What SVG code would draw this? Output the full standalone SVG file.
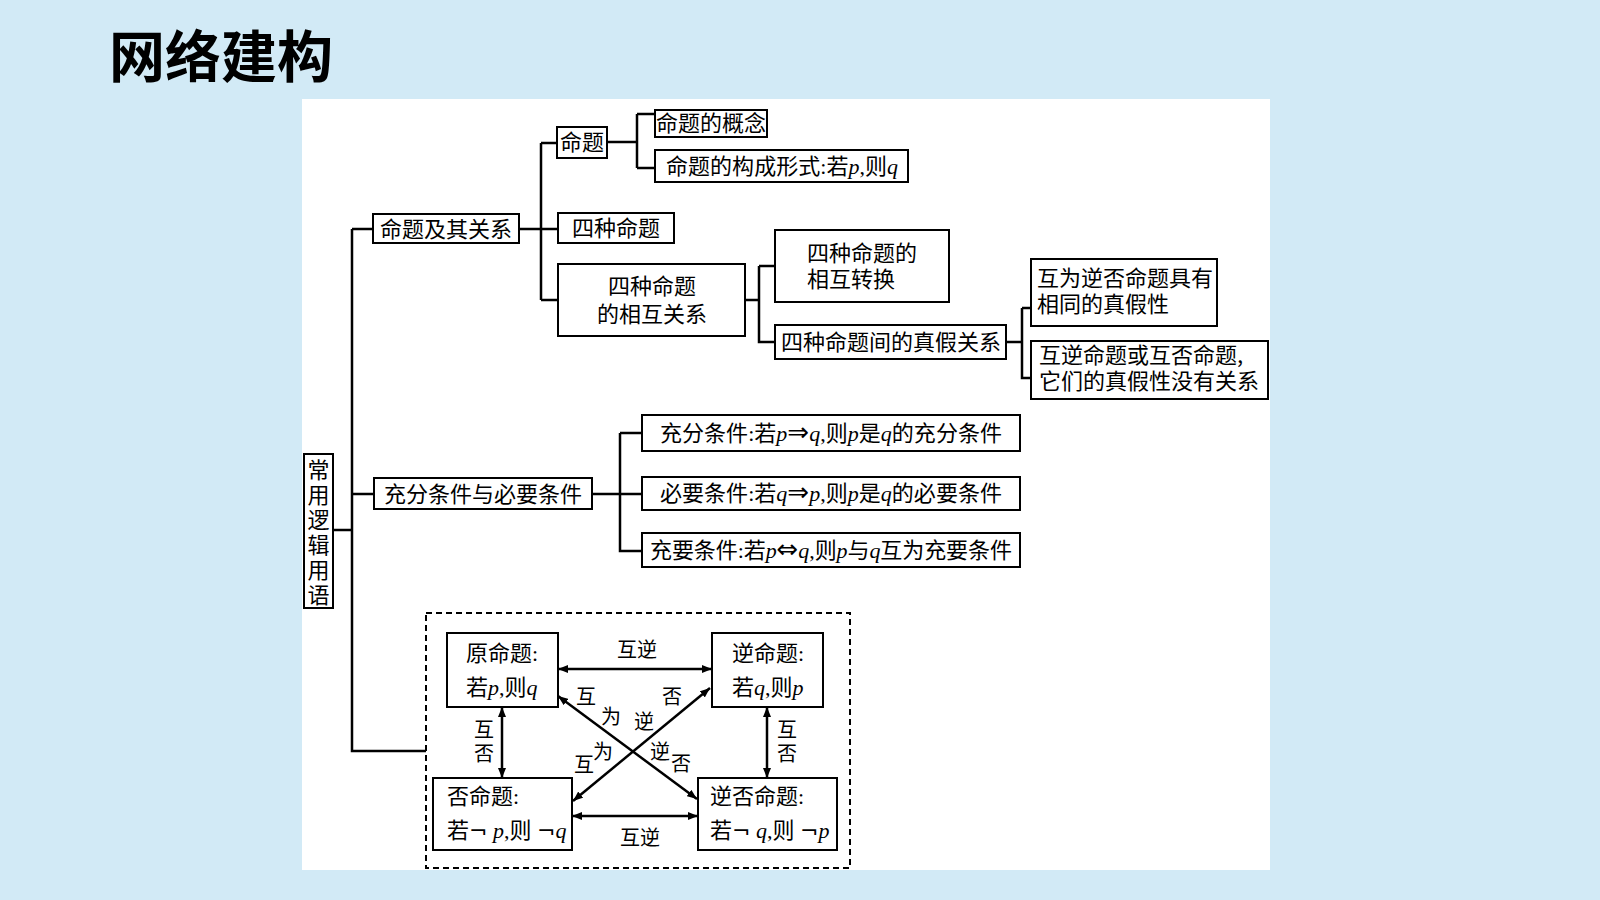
<svg xmlns="http://www.w3.org/2000/svg" width="1600" height="900" viewBox="0 0 1600 900">
<defs>
<style>
.bg{fill:#d2eaf6}
.panel{fill:#ffffff}
.box{fill:#ffffff;stroke:#000;stroke-width:2}
.t{font-family:"Liberation Serif","Noto Sans CJK SC",serif;font-size:22px;fill:#000}
.c{font-family:"Noto Sans CJK SC",sans-serif;font-size:22px;fill:#000}
.m{font-family:"Liberation Serif",serif;font-style:italic}
.sym{font-family:"DejaVu Sans",sans-serif;font-size:26px}
.neg{font-family:"DejaVu Sans",sans-serif;font-size:22px}
.lbl{font-family:"Noto Sans CJK SC",sans-serif;font-size:20px;fill:#000;text-anchor:middle}
.ln{fill:none;stroke:#000;stroke-width:2.5}
.ar{fill:none;stroke:#000;stroke-width:2.5;marker-start:url(#ah);marker-end:url(#ah)}
.mid{text-anchor:middle}
</style>
<marker id="ah" viewBox="0 0 10 8" refX="10" refY="4" markerWidth="10" markerHeight="8" markerUnits="userSpaceOnUse" orient="auto-start-reverse">
<path d="M0,0 L10,4 L0,8 z" fill="#000"/>
</marker>
</defs>
<rect class="bg" x="0" y="0" width="1600" height="900"/>
<rect class="panel" x="302" y="99" width="968" height="771"/>
<text x="109" y="77" font-family="'Noto Sans CJK SC',sans-serif" font-size="56" font-weight="bold" fill="#000">网络建构</text>

<g id="connectors">
<path class="ln" d="M333,530 H352 M352,229 V751 H426 M352,229 H373 M352,494 H374"/>
<path class="ln" d="M519,229 H558 M541,143 V300 M541,143 H557 M541,300 H558"/>
<path class="ln" d="M607,142 H637 M637,114 V168 M637,114 H655 M637,168 H655"/>
<path class="ln" d="M745,300 H759 M759,266 V342 H775 M759,266 H775"/>
<path class="ln" d="M1006,342 H1022 M1022,308 V378 H1031 M1022,308 H1031"/>
<path class="ln" d="M592,494 H642 M620,433 V551 H642 M620,433 H642"/>
<path class="ar" d="M558,669 H712"/>
<path class="ar" d="M572,816 H698"/>
<path class="ar" d="M502,707 V778"/>
<path class="ar" d="M767,707 V778"/>
<path class="ar" d="M558,696 L697,799"/>
<path class="ar" d="M710,688 L573,801"/>
</g>

<g id="root">
<rect class="box" x="304" y="454" width="29" height="154"/>
<text class="c" x="318.5" y="459" font-size="21" writing-mode="tb" letter-spacing="3">常用逻辑用语</text>
</g>

<g id="n-mtjqgx">
<rect class="box" x="373" y="214" width="146" height="29"/>
<text class="c mid" x="446" y="237">命题及其关系</text>
</g>
<g id="n-mt">
<rect class="box" x="557" y="127" width="50" height="31"/>
<text class="c mid" x="582" y="150">命题</text>
</g>
<g id="n-mtgn">
<rect class="box" x="655" y="110" width="112" height="27"/>
<text class="c mid" x="711" y="131" font-size="21">命题的概念</text>
</g>
<g id="n-gcxs">
<rect class="box" x="655" y="150" width="253" height="32"/>
<text class="t" x="666" y="174" textLength="232" lengthAdjust="spacing">命题的构成形式:若<tspan class="m">p</tspan>,则<tspan class="m">q</tspan></text>
</g>
<g id="n-szmt">
<rect class="box" x="558" y="213" width="116" height="30"/>
<text class="c mid" x="616" y="236">四种命题</text>
</g>
<g id="n-xhgx">
<rect class="box" x="558" y="264" width="187" height="72"/>
<text class="c mid"><tspan x="652" y="294">四种命题</tspan><tspan x="652" y="322">的相互关系</tspan></text>
</g>
<g id="n-xhzh">
<rect class="box" x="775" y="230" width="174" height="72"/>
<text class="c"><tspan x="807" y="261">四种命题的</tspan><tspan x="807" y="287">相互转换</tspan></text>
</g>
<g id="n-zjgx">
<rect class="box" x="775" y="325" width="231" height="34"/>
<text class="c" x="781" y="350" textLength="220" lengthAdjust="spacing">四种命题间的真假关系</text>
</g>
<g id="n-hwnf">
<rect class="box" x="1031" y="259" width="186" height="67"/>
<text class="c"><tspan x="1037" y="286">互为逆否命题具有</tspan><tspan x="1037" y="312">相同的真假性</tspan></text>
</g>
<g id="n-hnhf">
<rect class="box" x="1031" y="341" width="237" height="58"/>
<text class="c"><tspan x="1039" y="363">互逆命题或互否命题,</tspan><tspan x="1039" y="389">它们的真假性没有关系</tspan></text>
</g>
<g id="n-cfbyt">
<rect class="box" x="374" y="478" width="218" height="31"/>
<text class="c mid" x="483" y="502">充分条件与必要条件</text>
</g>
<g id="n-cf">
<rect class="box" x="642" y="415" width="378" height="36"/>
<text class="t" x="660" y="441" textLength="342" lengthAdjust="spacing">充分条件:若<tspan class="m">p</tspan><tspan class="sym">⇒</tspan><tspan class="m">q</tspan>,则<tspan class="m">p</tspan>是<tspan class="m">q</tspan>的充分条件</text>
</g>
<g id="n-by">
<rect class="box" x="642" y="477" width="378" height="33"/>
<text class="t" x="660" y="501" textLength="342" lengthAdjust="spacing">必要条件:若<tspan class="m">q</tspan><tspan class="sym">⇒</tspan><tspan class="m">p</tspan>,则<tspan class="m">p</tspan>是<tspan class="m">q</tspan>的必要条件</text>
</g>
<g id="n-cy">
<rect class="box" x="642" y="533" width="378" height="34"/>
<text class="t" x="650" y="558" textLength="362" lengthAdjust="spacing">充要条件:若<tspan class="m">p</tspan><tspan class="sym">⇔</tspan><tspan class="m">q</tspan>,则<tspan class="m">p</tspan>与<tspan class="m">q</tspan>互为充要条件</text>
</g>

<g id="square">
<rect x="426" y="613" width="424" height="255" fill="none" stroke="#000" stroke-width="2" stroke-dasharray="6,4"/>
</g>
<g id="n-ymt">
<rect class="box" x="447" y="633" width="111" height="74"/>
<text class="t"><tspan x="466" y="661">原命题:</tspan><tspan x="466" y="695">若<tspan class="m">p</tspan>,则<tspan class="m">q</tspan></tspan></text>
</g>
<g id="n-nmt">
<rect class="box" x="712" y="633" width="111" height="74"/>
<text class="t"><tspan x="732" y="661">逆命题:</tspan><tspan x="732" y="695">若<tspan class="m">q</tspan>,则<tspan class="m">p</tspan></tspan></text>
</g>
<g id="n-fmt">
<rect class="box" x="433" y="778" width="139" height="72"/>
<text class="t"><tspan x="447" y="804">否命题:</tspan><tspan x="447" y="838">若<tspan class="neg">¬</tspan> <tspan class="m">p</tspan>,则 <tspan class="neg">¬</tspan><tspan class="m">q</tspan></tspan></text>
</g>
<g id="n-nfmt">
<rect class="box" x="698" y="778" width="139" height="72"/>
<text class="t"><tspan x="710" y="804">逆否命题:</tspan><tspan x="710" y="838">若<tspan class="neg">¬</tspan> <tspan class="m">q</tspan>,则 <tspan class="neg">¬</tspan><tspan class="m">p</tspan></tspan></text>
</g>
<g id="labels">
<text class="lbl" x="637" y="657">互逆</text>
<text class="lbl" x="640" y="845">互逆</text>
<text class="lbl" font-size="18"><tspan x="484" y="737">互</tspan><tspan x="484" y="761">否</tspan></text>
<text class="lbl" font-size="18"><tspan x="787" y="737">互</tspan><tspan x="787" y="761">否</tspan></text>
<text class="lbl" x="586" y="704">互</text>
<text class="lbl" x="611" y="724">为</text>
<text class="lbl" x="644" y="729">逆</text>
<text class="lbl" x="672" y="704">否</text>
<text class="lbl" x="603" y="759">为</text>
<text class="lbl" x="584" y="772">互</text>
<text class="lbl" x="660" y="759">逆</text>
<text class="lbl" x="681" y="771">否</text>
</g>
</svg>
